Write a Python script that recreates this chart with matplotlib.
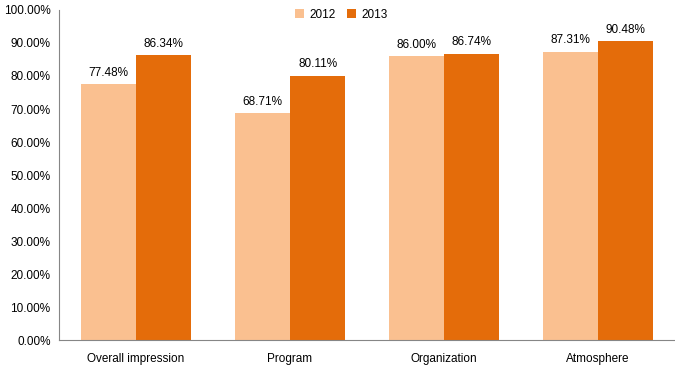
import numpy as np
import matplotlib
matplotlib.use("Agg")
import matplotlib.pyplot as plt
from matplotlib.ticker import FuncFormatter

categories = ["Overall impression", "Program", "Organization", "Atmosphere"]
series_names = ["2012", "2013"]
values_2012 = [77.48, 68.71, 86.00, 87.31]
values_2013 = [86.34, 80.11, 86.74, 90.48]
colors = ["#FAC090", "#E46C0A"]

plt.rcParams['font.family'] = ['Liberation Sans', 'DejaVu Sans']
plt.rcParams['font.size'] = 8.5

fig = plt.figure(figsize=(6.75, 3.7), dpi=100)
ax = fig.add_axes([0.0874, 0.081, 0.9126, 0.892])

x = np.arange(len(categories))
w = 0.36
bars1 = ax.bar(x - w / 2, values_2012, w, color=colors[0], label=series_names[0])
bars2 = ax.bar(x + w / 2, values_2013, w, color=colors[1], label=series_names[1])

for bars in (bars1, bars2):
    for b in bars:
        ax.annotate(f"{b.get_height():.2f}%", (b.get_x() + b.get_width() / 2, b.get_height()),
                    xytext=(0, 4), textcoords="offset points", ha="center", va="bottom")

ax.set_xlim(-0.5, len(categories) - 0.5)
ax.set_ylim(0, 100)
ax.set_yticks(np.arange(0, 101, 10))
ax.yaxis.set_major_formatter(FuncFormatter(lambda v, p: f"{v:.2f}%"))
ax.set_xticks(x)
ax.set_xticklabels(categories)
ax.tick_params(length=0, pad=6)
ax.tick_params(axis='x', pad=9)

for s in ("top", "right"):
    ax.spines[s].set_visible(False)
for s in ("left", "bottom"):
    ax.spines[s].set_color("#868686")
    ax.spines[s].set_linewidth(0.8)

leg = ax.legend(loc="center", bbox_to_anchor=(0.458, 0.985), ncol=2, frameon=False,
                handlelength=0.8, handleheight=0.8, columnspacing=1.0, handletextpad=0.4)

fig.savefig("out.png", dpi=100)
